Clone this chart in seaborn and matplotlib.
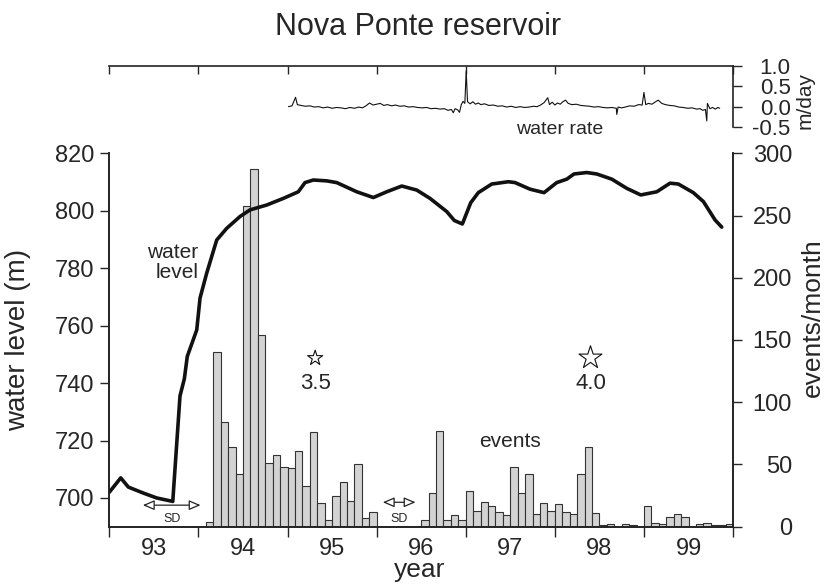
import numpy as np
import pandas as pd
import matplotlib
matplotlib.use("Agg")
import matplotlib.pyplot as plt
import seaborn as sns

sns.set_style("ticks")
plt.rcParams['font.family'] = ['Liberation Sans', 'DejaVu Sans']
plt.rcParams['axes.unicode_minus'] = False

# monthly event counts, Jan 1993 .. Dec 1999
events_1993 = [0, 0, 0, 0, 0, 0, 0, 0, 0, 0, 0, 0]
events_1994 = [0, 4, 140, 84, 64, 42, 258, 287, 154, 51, 58, 48]
events_1995 = [47, 61, 33, 76, 19, 5, 25, 36, 21, 50, 7, 12]
events_1996 = [0, 0, 0, 0, 0, 0, 5, 27, 77, 5, 9, 5]
events_1997 = [29, 13, 20, 17, 12, 9, 48, 27, 42, 10, 19, 13]
events_1998 = [18, 12, 10, 42, 64, 11, 1, 2, 0, 2, 1, 0]
events_1999 = [17, 3, 2, 8, 10, 8, 0, 2, 3, 1, 1, 2]
events = (events_1993 + events_1994 + events_1995 + events_1996
          + events_1997 + events_1998 + events_1999)

# water level (m)
level_year = [1993.000, 1993.128, 1993.213, 1993.382, 1993.532, 1993.712,
              1993.793, 1993.842, 1993.875, 1993.981, 1994.018, 1994.093,
              1994.205, 1994.318, 1994.467, 1994.579, 1994.767, 1994.953,
              1995.121, 1995.196, 1995.290, 1995.440, 1995.552, 1995.777,
              1995.963, 1996.113, 1996.282, 1996.450, 1996.599, 1996.787,
              1996.872, 1996.962, 1997.056, 1997.141, 1997.292, 1997.478,
              1997.553, 1997.722, 1997.879, 1998.021, 1998.134, 1998.215,
              1998.358, 1998.470, 1998.639, 1998.807, 1998.964, 1999.144,
              1999.293, 1999.386, 1999.554, 1999.667, 1999.798, 1999.873]
level_m = [702.0, 707.0, 703.8, 701.7, 700.0, 698.8,
           735.5, 741.5, 749.3, 758.5, 769.6, 778.3,
           789.8, 793.9, 798.0, 800.3, 802.0, 804.3,
           806.6, 809.8, 810.7, 810.4, 809.8, 806.6,
           804.6, 806.6, 808.6, 807.2, 804.3, 799.7,
           796.6, 795.4, 802.8, 806.3, 809.3, 810.1,
           809.8, 807.5, 806.3, 809.8, 811.0, 812.8,
           813.3, 812.8, 811.0, 807.8, 805.5, 806.6,
           809.6, 809.3, 806.3, 803.2, 796.8, 794.3]

# water rate (m/day)
rate_year = [1995.01, 1995.05, 1995.09, 1995.11, 1995.15, 1995.20, 1995.25, 1995.30,
             1995.35, 1995.40, 1995.45, 1995.50, 1995.55, 1995.60, 1995.65, 1995.70,
             1995.75, 1995.80, 1995.84, 1995.88, 1995.92, 1995.96, 1996.00, 1996.04,
             1996.08, 1996.12, 1996.17, 1996.21, 1996.26, 1996.31, 1996.36, 1996.41,
             1996.46, 1996.51, 1996.56, 1996.61, 1996.66, 1996.71, 1996.76, 1996.80,
             1996.84, 1996.86, 1996.88, 1996.91, 1996.93, 1996.95, 1996.97, 1996.99,
             1997.005, 1997.02, 1997.05, 1997.08, 1997.11, 1997.14, 1997.17, 1997.21,
             1997.26, 1997.31, 1997.36, 1997.41, 1997.46, 1997.51, 1997.56, 1997.61,
             1997.66, 1997.71, 1997.76, 1997.80, 1997.84, 1997.88, 1997.92, 1997.94,
             1997.97, 1998.00, 1998.03, 1998.06, 1998.09, 1998.12, 1998.15, 1998.19,
             1998.24, 1998.29, 1998.34, 1998.39, 1998.44, 1998.49, 1998.54, 1998.59,
             1998.64, 1998.69, 1998.695, 1998.71, 1998.75, 1998.79, 1998.84, 1998.89,
             1998.94, 1998.98, 1999.00, 1999.02, 1999.05, 1999.09, 1999.13, 1999.16,
             1999.20, 1999.24, 1999.29, 1999.34, 1999.39, 1999.44, 1999.49, 1999.54,
             1999.59, 1999.63, 1999.66, 1999.69, 1999.705, 1999.712, 1999.74, 1999.77,
             1999.80, 1999.83, 1999.85]
rate_mday = [0.00, 0.02, 0.23, 0.05, 0.03, 0.01, 0.02, -0.01,
             0.00, -0.03, -0.01, -0.04, -0.02, -0.03, -0.05, -0.02,
             -0.04, -0.01, -0.03, 0.02, 0.09, 0.04, 0.06, 0.08,
             0.03, 0.05, 0.02, 0.04, 0.01, 0.02, -0.01, 0.00,
             -0.02, -0.03, -0.02, -0.05, -0.04, -0.06, -0.05, -0.09,
             -0.07, -0.15, -0.05, -0.08, -0.14, 0.05, 0.13, 0.08,
             0.88, 0.12, 0.07, 0.12, 0.06, 0.09, 0.05, 0.07,
             0.03, 0.04, 0.01, 0.02, -0.01, 0.01, -0.02, 0.00,
             -0.02, -0.01, 0.01, 0.00, 0.04, 0.10, 0.22, 0.05,
             0.11, 0.04, 0.09, 0.06, 0.12, 0.16, 0.08, 0.05,
             0.06, 0.03, 0.02, 0.01, -0.01, 0.00, -0.02, -0.03,
             -0.02, -0.04, -0.19, -0.01, -0.03, -0.01, 0.02, 0.01,
             0.05, 0.04, 0.35, 0.05, 0.08, 0.06, 0.12, 0.16,
             0.08, 0.05, 0.03, 0.02, -0.01, -0.02, -0.04, -0.03,
             -0.06, -0.05, -0.09, -0.07, -0.35, 0.08, -0.05, -0.02,
             -0.06, -0.02, -0.04]

year_labels = ['93', '94', '95', '96', '97', '98', '99']
quakes = pd.DataFrame({'year': [1995.31, 1998.40], 'level': [748.7, 748.8],
                       'mag': ['3.5', '4.0'], 'size': [130, 300]})

month_mid = 1993 + (np.arange(84) + 0.5) / 12
ev_df = pd.DataFrame({'month': month_mid, 'n': events})

fig = plt.figure(figsize=(8.27, 5.86), dpi=100)
ax_ev = fig.add_axes([0.1322, 0.1012, 0.7542, 0.6372])
ax_lv = ax_ev.twinx()
ax_top = fig.add_axes([0.1322, 0.7833, 0.7542, 0.1041])

# events histogram
sns.histplot(data=ev_df, x='month', weights='n', binwidth=1 / 12,
             binrange=(1993, 2000), ax=ax_ev, color='#d3d3d3',
             edgecolor='#333333', linewidth=0.8, alpha=1)

# water level
sns.lineplot(x=level_year, y=level_m, ax=ax_lv, color='#111111', lw=2.6)

# earthquakes
sns.scatterplot(data=quakes, x='year', y='level', size='size', sizes=(130, 300),
                marker='*', facecolor='white', edgecolor='#111111', linewidth=0.8,
                legend=False, ax=ax_lv, zorder=5)
for _, q in quakes.iterrows():
    ax_lv.text(q['year'], 740.0, q['mag'], ha='center', va='center', fontsize=16)

# SD arrows
for x0, x1, y in [(1993.345, 1994.055, 697.5), (1996.038, 1996.468, 698.5)]:
    ax_lv.annotate('', xy=(x1, y), xytext=(x0, y),
                   arrowprops=dict(arrowstyle='<|-|>,head_length=0.7,head_width=0.3',
                                   fc='white', ec='#222222', lw=0.9))
    ax_lv.text((x0 + x1) / 2, 692.6, 'SD', ha='center', va='center', fontsize=9)

ax_lv.text(1993.998, 782.1, 'water\nlevel', ha='right', va='center',
           fontsize=15, multialignment='right', linespacing=1.05)
ax_lv.text(1997.5, 719.6, 'events', ha='center', va='center', fontsize=15)

# axes styling
ax_ev.set_xlim(1993, 2000)
ax_ev.set_ylim(0, 300)
ax_lv.set_ylim(690, 820)
ax_ev.yaxis.tick_right()
ax_ev.yaxis.set_label_position('right')
ax_lv.yaxis.tick_left()
ax_lv.yaxis.set_label_position('left')

ax_ev.set_xticks(np.arange(1993, 2001))
ax_ev.set_xticklabels([])
ax_ev.set_xticks(np.arange(1993.5, 2000, 1), minor=True)
ax_ev.set_xticklabels(year_labels, minor=True)
ax_ev.tick_params(axis='x', which='major', direction='out', length=7, width=1)
ax_ev.tick_params(axis='x', which='minor', length=0, labelsize=17, pad=8)

ax_ev.set_yticks(np.arange(0, 301, 50))
ax_ev.tick_params(axis='y', direction='out', length=6.5, width=1, labelsize=17,
                  pad=36, right=True, left=False, labelright=True, labelleft=False)
plt.setp(ax_ev.get_yticklabels(), ha='right')
ax_lv.set_yticks(np.arange(700, 821, 20))
ax_lv.tick_params(axis='y', direction='out', length=6.5, width=1, labelsize=17,
                  pad=4, left=True, right=False, labelleft=True, labelright=False)

ax_ev.set_xlabel('year', fontsize=19)
ax_ev.xaxis.set_label_coords(0.498, -0.083)
ax_ev.set_ylabel('events/month', fontsize=19)
ax_ev.yaxis.set_label_coords(1.108, 0.56)
ax_lv.set_ylabel('water level (m)', fontsize=20)
ax_lv.yaxis.set_label_coords(-0.125, 0.5)

for a in (ax_ev, ax_lv):
    a.spines['top'].set_visible(False)
    for s in ('left', 'right', 'bottom'):
        a.spines[s].set_linewidth(1.2)
        a.spines[s].set_color('#222222')

# water rate panel
sns.lineplot(x=rate_year, y=rate_mday, ax=ax_top, color='#111111', lw=0.8)
ax_top.set_xlim(1993, 2000)
ax_top.set_ylim(-0.5, 1.0)
ax_top.xaxis.tick_top()
ax_top.set_xticks(np.arange(1993, 2001))
ax_top.tick_params(axis='x', direction='in', length=6, width=1, top=True,
                   bottom=False, labeltop=False, labelbottom=False)
ax_top.yaxis.tick_right()
ax_top.set_yticks([-0.5, 0.0, 0.5, 1.0])
ax_top.set_yticklabels(['-0.5', '0.0', '0.5', '1.0'])
ax_top.tick_params(axis='y', direction='out', length=6.5, width=1, labelsize=16,
                   pad=35, right=True, left=False)
plt.setp(ax_top.get_yticklabels(), ha='right')
ax_top.set_xlabel('')
ax_top.yaxis.set_label_position('right')
ax_top.set_ylabel('m/day', fontsize=15)
ax_top.yaxis.set_label_coords(1.1, 0.44)
ax_top.spines['left'].set_visible(False)
ax_top.spines['bottom'].set_visible(False)
for s in ('top', 'right'):
    ax_top.spines[s].set_linewidth(1.2)
    ax_top.spines[s].set_color('#222222')
ax_top.patch.set_visible(False)
ax_top.text(1998.05, -0.55, 'water rate', ha='center', va='center',
            fontsize=14, clip_on=False)

fig.text(0.505, 0.954, 'Nova Ponte reservoir', ha='center', va='center',
         fontsize=22)

fig.savefig('out.png', dpi=100)
